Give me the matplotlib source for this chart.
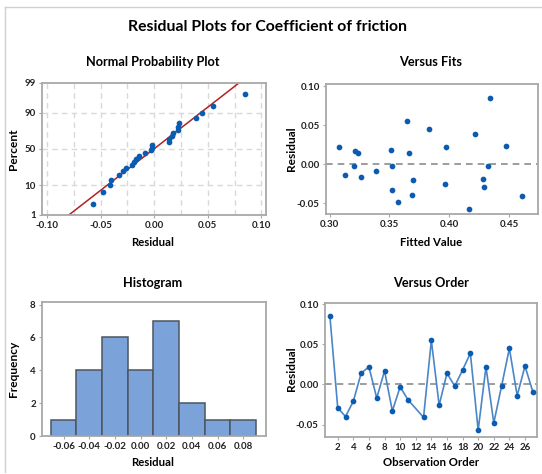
import numpy as np
import matplotlib
matplotlib.use("Agg")
import matplotlib.pyplot as plt
from statistics import NormalDist

plt.rcParams['font.family'] = ['Lato', 'DejaVu Sans']

# Data
obs_order = [1, 2, 3, 4, 5, 6, 7, 8, 9, 10, 11, 13, 14, 15, 16, 17, 18, 19, 20, 21, 22, 23, 24, 25, 26, 27]
residuals = [0.085, -0.029, -0.040, -0.021, 0.014, 0.022, -0.017, 0.017, -0.033, -0.003, -0.019,
             -0.041, 0.055, -0.026, 0.014, -0.002, 0.018, 0.039, -0.057, 0.022, -0.048, -0.002,
             0.045, -0.014, 0.023, -0.009]
fitted = [0.434, 0.429, 0.369, 0.370, 0.324, 0.308, 0.326, 0.321, 0.352, 0.320, 0.428,
          0.461, 0.365, 0.396, 0.366, 0.352, 0.351, 0.421, 0.416, 0.397, 0.357, 0.432,
          0.383, 0.313, 0.447, 0.339]
hist_bins = [-0.07, -0.05, -0.03, -0.01, 0.01, 0.03, 0.05, 0.07, 0.09]
pct_ticks = [1, 10, 50, 90, 99]

W, H = 542, 474
fig = plt.figure(figsize=(W / 100, H / 100), dpi=100)

def ax_px(l, t, r, b):
    return fig.add_axes([l / W, 1 - b / H, (r - l) / W, (b - t) / H])

pt_col = '#0b5cb0'
spine_col = '#a8a8a8'
tick_fs = 7
lab_fs = 8.2
title_fs = 9.2

def style(ax):
    for s in ax.spines.values():
        s.set_color(spine_col)
        s.set_linewidth(1.3)
    ax.tick_params(axis='both', colors='#222222', labelsize=tick_fs, length=2.5,
                   width=0.8, pad=2)
    ax.tick_params(axis='both', color=spine_col)
    for lb in ax.get_xticklabels() + ax.get_yticklabels():
        lb.set_fontweight('bold')

nd = NormalDist()
res = np.array(residuals)
n = len(res)

# Normal probability plot
ax1 = ax_px(42, 83, 266, 215)
srt = np.sort(res)
ranks = (np.arange(1, n + 1) - 0.3) / (n + 0.4)
zs = np.array([nd.inv_cdf(p) for p in ranks])
mu, sd = res.mean(), res.std(ddof=1)
zlim = nd.inv_cdf(0.99)
ax1.set_ylim(-zlim, zlim)
ax1.set_xlim(-0.1047, 0.1044)
for xv in np.arange(-0.10, 0.1001, 0.025):
    ax1.axvline(xv, color='#d9d9d9', lw=1, ls=(0, (4, 3)), zorder=0)
for p in [10, 50, 90]:
    ax1.axhline(nd.inv_cdf(p / 100), color='#d9d9d9', lw=1, ls=(0, (4, 3)), zorder=0)
zline = np.array([-3, 3])
ax1.plot(mu + sd * zline, zline, color='#b22222', lw=1.1, zorder=2)
ax1.scatter(srt, zs, s=17, color=pt_col, zorder=3, linewidths=0)
ax1.set_yticks([nd.inv_cdf(p / 100) for p in pct_ticks])
ax1.set_yticklabels([str(p) for p in pct_ticks])
ax1.set_xticks([-0.10, -0.05, 0.0, 0.05, 0.10])
ax1.set_xticklabels(['-0.10', '-0.05', '0.00', '0.05', '0.10'])
style(ax1)

# Versus fits
ax2 = ax_px(326, 84, 538, 214)
ax2.set_xlim(0.297, 0.474)
ax2.set_ylim(-0.064, 0.1026)
ax2.axhline(0, color='#8c8c8c', lw=1.2, ls=(0, (4, 3)), zorder=1)
ax2.scatter(fitted, residuals, s=17, color=pt_col, zorder=3, linewidths=0)
ax2.set_xticks([0.30, 0.35, 0.40, 0.45])
ax2.set_xticklabels(['0.30', '0.35', '0.40', '0.45'])
ax2.set_yticks([-0.05, 0.0, 0.05, 0.10])
ax2.set_yticklabels(['-0.05', '0.00', '0.05', '0.10'])
style(ax2)

# Histogram
ax3 = ax_px(42, 302, 266, 436)
ax3.hist(residuals, bins=hist_bins, color='#7ba3d9', edgecolor='#4d5560', linewidth=1.1)
ax3.set_xlim(-0.0768, 0.0978)
ax3.set_ylim(0, 8.16)
ax3.set_yticks([0, 2, 4, 6, 8])
ax3.set_xticks([-0.06, -0.04, -0.02, 0.0, 0.02, 0.04, 0.06, 0.08])
ax3.set_xticklabels(['-0.06', '-0.04', '-0.02', '0.00', '0.02', '0.04', '0.06', '0.08'])
style(ax3)

# Versus order
ax4 = ax_px(325, 303, 537, 437)
ax4.set_xlim(0.37, 27.54)
ax4.set_ylim(-0.0655, 0.1016)
ax4.axhline(0, color='#8c8c8c', lw=1.2, ls=(0, (4, 3)), zorder=1)
ax4.plot(obs_order, residuals, color='#4a86c8', lw=1.2, zorder=2)
ax4.scatter(obs_order, residuals, s=17, color=pt_col, zorder=3, linewidths=0)
ax4.set_xticks(list(range(2, 27, 2)))
ax4.set_yticks([-0.05, 0.0, 0.05, 0.10])
ax4.set_yticklabels(['-0.05', '0.00', '0.05', '0.10'])
style(ax4)

# Titles and labels
fig.text(267 / W, 1 - 27 / H, 'Residual Plots for Coefficient of friction', ha='center', va='center',
         fontsize=11.3, fontweight='bold')
for x, y, t in [(153, 62, 'Normal Probability Plot'), (431, 62, 'Versus Fits'),
                (153, 283, 'Histogram'), (431, 283, 'Versus Order')]:
    fig.text(x / W, 1 - y / H, t, ha='center', va='center', fontsize=title_fs, fontweight='bold')
for x, y, t in [(153, 242, 'Residual'), (431, 242, 'Fitted Value'),
                (153, 463, 'Residual'), (431, 463, 'Observation Order')]:
    fig.text(x / W, 1 - y / H, t, ha='center', va='center', fontsize=lab_fs, fontweight='bold')
for x, y, t in [(14, 149, 'Percent'), (291, 149, 'Residual'),
                (14, 369, 'Frequency'), (291, 369, 'Residual')]:
    fig.text(x / W, 1 - y / H, t, ha='center', va='center', fontsize=lab_fs + 0.4, fontweight='bold',
             rotation=90)

# Outer frame lines
fig.add_artist(plt.Line2D([5 / W, 5 / W], [1 - 7 / H, 1 - 472 / H], transform=fig.transFigure,
                          color='#d0d0d0', lw=1))
fig.add_artist(plt.Line2D([5 / W, 1], [1 - 7 / H, 1 - 7 / H], transform=fig.transFigure,
                          color='#d0d0d0', lw=1))

fig.savefig('out.png', dpi=100)
